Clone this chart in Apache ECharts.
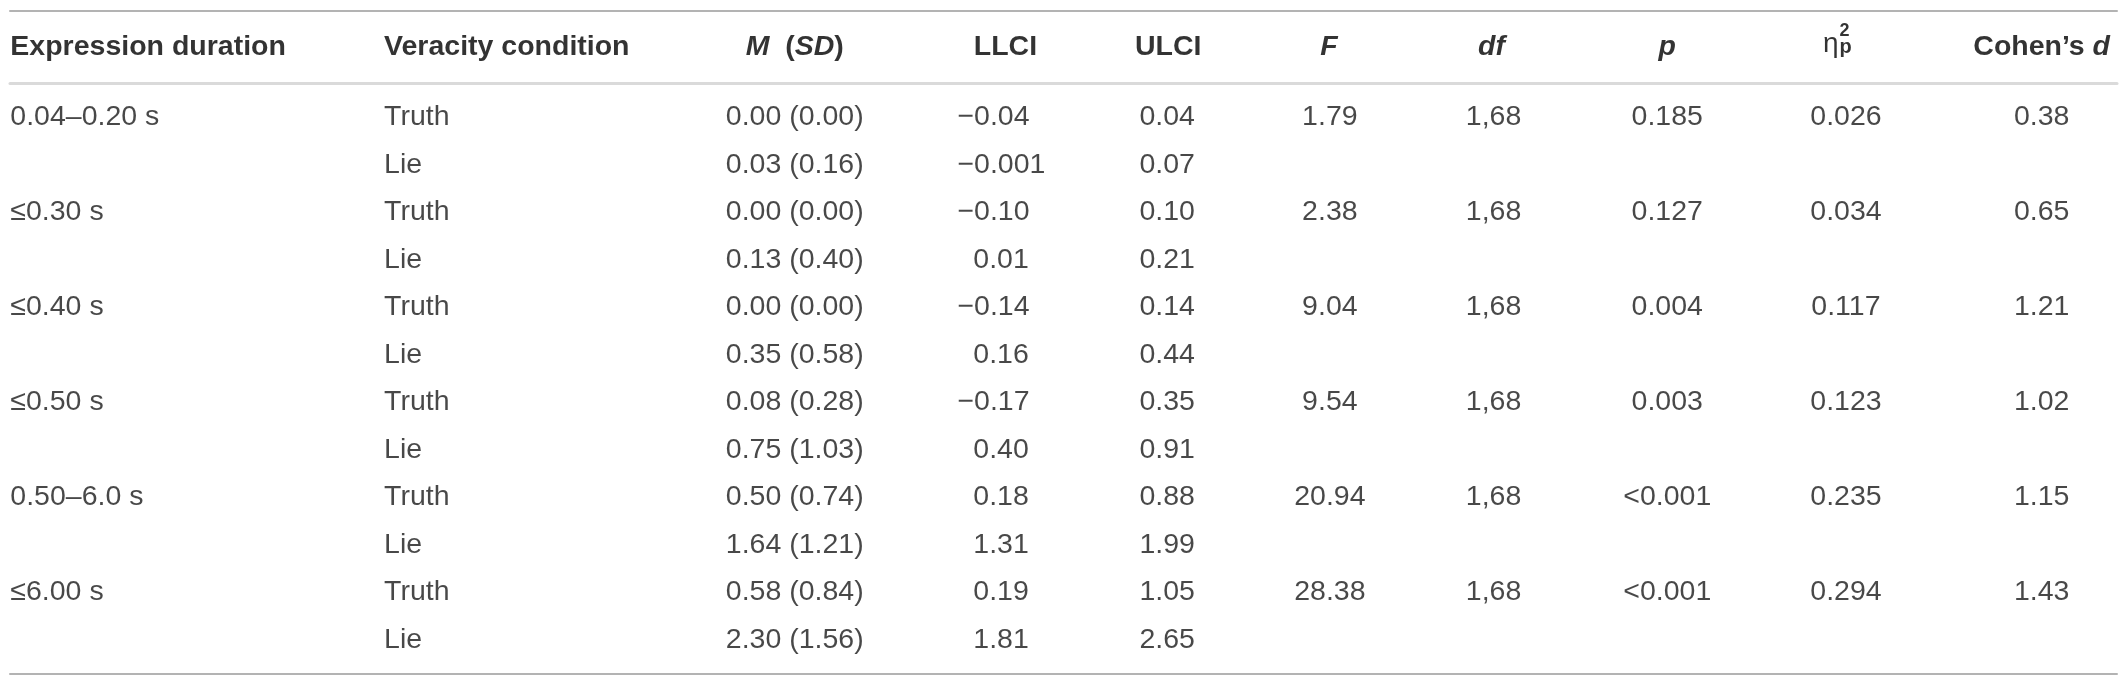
<!DOCTYPE html>
<html>
<head>
<meta charset="utf-8">
<script src="https://cdn.jsdelivr.net/npm/echarts@6/dist/echarts.min.js"></script>
<style>
  html, body { margin: 0; padding: 0; background: #fff; }
  #table-chart { width: 2128px; height: 685px; }
</style>
</head>
<body>
<div id="table-chart"></div>
<script>
// columns of the table (category axis) and their header labels
var columns = ['duration', 'condition', 'msd', 'llci', 'ulci', 'F', 'df', 'p', 'eta', 'd'];
var headerLabels = ['Expression duration', 'Veracity condition', '{i|M}  ({i|SD})', 'LLCI', 'ULCI',
    '{i|F}', '{i|df}', '{i|p}', '\u03b7', 'Cohen\u2019s {i|d}'];

// one entry per duration group
var durations = ['0.04\u20130.20 s', '\u22640.30 s', '\u22640.40 s', '\u22640.50 s', '0.50\u20136.0 s', '\u22646.00 s'];
var conditions = ['Truth', 'Lie'];
var fValues = ['1.79', '2.38', '9.04', '9.54', '20.94', '28.38'];
var dfValues = ['1,68', '1,68', '1,68', '1,68', '1,68', '1,68'];
var pValues = ['0.185', '0.127', '0.004', '0.003', '<0.001', '<0.001'];
var etaValues = ['0.026', '0.034', '0.117', '0.123', '0.235', '0.294'];
var cohenValues = ['0.38', '0.65', '1.21', '1.02', '1.15', '1.43'];

// one entry per row (Truth, Lie, Truth, Lie ...)
var means = ['0.00', '0.03', '0.00', '0.13', '0.00', '0.35', '0.08', '0.75', '0.50', '1.64', '0.58', '2.30'];
var sds = ['0.00', '0.16', '0.00', '0.40', '0.00', '0.58', '0.28', '1.03', '0.74', '1.21', '0.84', '1.56'];
var llci = ['\u22120.04', '\u22120.001', '\u22120.10', '0.01', '\u22120.14', '0.16', '\u22120.17', '0.40', '0.18', '1.31', '0.19', '1.81'];
var ulci = ['0.04', '0.07', '0.10', '0.21', '0.14', '0.44', '0.35', '0.91', '0.88', '1.99', '1.05', '2.65'];

// layout of each column: text alignment and shift from the band centre
var bodyCols = [
    {align: 'left', dx: -105}, {align: 'left', dx: 58}, {align: 'center', dx: 258},
    {align: 'left', dx: 210}, {align: 'center', dx: 209}, {align: 'center', dx: 161},
    {align: 'center', dx: 114}, {align: 'center', dx: 77}, {align: 'center', dx: 45},
    {align: 'center', dx: 30}
];
var headCols = [
    {align: 'left', dx: -105}, {align: 'left', dx: 58}, {align: 'center', dx: 258},
    {align: 'center', dx: 258}, {align: 'center', dx: 210}, {align: 'center', dx: 160},
    {align: 'center', dx: 112}, {align: 'center', dx: 77}, {align: 'left', dx: 22},
    {align: 'center', dx: 30}
];

var font = "'Liberation Sans', Arial, Helvetica, sans-serif";
var fs = 28.5;

var rowNames = [];
var bodyData = [];
for (var g = 0; g < durations.length; g++) {
    for (var k = 0; k < conditions.length; k++) {
        var r = g * 2 + k;
        rowNames.push(durations[g] + ' ' + conditions[k]);
        var first = k === 0;
        var cells = [
            first ? durations[g] : '',
            conditions[k],
            means[r] + ' (' + sds[r] + ')',
            llci[r].charAt(0) === '\u2212' ? llci[r] : '\u2007' + llci[r],
            ulci[r],
            first ? fValues[g] : '',
            first ? dfValues[g] : '',
            first ? pValues[g] : '',
            first ? etaValues[g] : '',
            first ? cohenValues[g] : ''
        ];
        for (var c = 0; c < cells.length; c++) {
            if (!cells[c]) continue;
            bodyData.push({
                name: cells[c],
                value: [c, r],
                label: {align: bodyCols[c].align, offset: [bodyCols[c].dx, 0]}
            });
        }
    }
}

var headData = [];
for (var h = 0; h < headerLabels.length; h++) {
    headData.push({
        name: headerLabels[h],
        value: [h, 0],
        label: h === 8
            ? {align: 'left', offset: [headCols[h].dx, -2.5], fontWeight: 'normal', fontSize: 28}
            : {align: headCols[h].align, offset: [headCols[h].dx, 0]}
    });
}
// superscript and subscript of the eta header
headData.push({
    name: '2',
    value: [8, 0],
    label: {align: 'left', offset: [38.5, -16], fontSize: 18}
});
headData.push({
    name: 'p',
    value: [8, 0],
    label: {align: 'left', offset: [38.5, 0], fontSize: 20}
});

var chart = echarts.init(document.getElementById('table-chart'));
var option = {
    animation: false,
    backgroundColor: '#fff',
    grid: [
        {left: 10, right: 11, top: 11, height: 72},
        {left: 10, right: 11, top: 93.6, height: 570}
    ],
    xAxis: [
        {gridIndex: 0, type: 'category', data: columns, position: 'top',
            axisLine: {lineStyle: {color: '#b3b3b3', width: 2}},
            axisTick: {show: false}, axisLabel: {show: false}, splitLine: {show: false}},
        {gridIndex: 0, type: 'category', data: columns, position: 'bottom',
            axisLine: {lineStyle: {color: '#dadada', width: 3}},
            axisTick: {show: false}, axisLabel: {show: false}, splitLine: {show: false}},
        {gridIndex: 1, type: 'category', data: columns, position: 'bottom', offset: 10.5,
            axisLine: {lineStyle: {color: '#b3b3b3', width: 2}},
            axisTick: {show: false}, axisLabel: {show: false}, splitLine: {show: false}}
    ],
    yAxis: [
        {gridIndex: 0, type: 'category', data: ['header'], show: false},
        {gridIndex: 1, type: 'category', data: rowNames, inverse: true, show: false}
    ],
    series: [
        {
            type: 'scatter',
            xAxisIndex: 0,
            yAxisIndex: 0,
            symbolSize: 1,
            silent: true,
            itemStyle: {color: 'rgba(0,0,0,0)'},
            label: {
                show: true,
                position: 'inside',
                verticalAlign: 'middle',
                fontFamily: font,
                fontSize: fs,
                fontWeight: 'bold',
                color: '#000000',
                formatter: function (p) { return p.name; },
                rich: {
                    i: {fontFamily: font, fontSize: fs, fontWeight: 'bold', fontStyle: 'italic', color: '#000000'}
                }
            },
            data: headData
        },
        {
            type: 'scatter',
            xAxisIndex: 2,
            yAxisIndex: 1,
            symbolSize: 1,
            silent: true,
            itemStyle: {color: 'rgba(0,0,0,0)'},
            label: {
                show: true,
                position: 'inside',
                verticalAlign: 'middle',
                fontFamily: font,
                fontSize: fs,
                color: '#1a1a1a',
                formatter: function (p) { return p.name; }
            },
            data: bodyData
        }
    ]
};
chart.setOption(option);
window.onresize = chart.resize;
</script>
</body>
</html>
